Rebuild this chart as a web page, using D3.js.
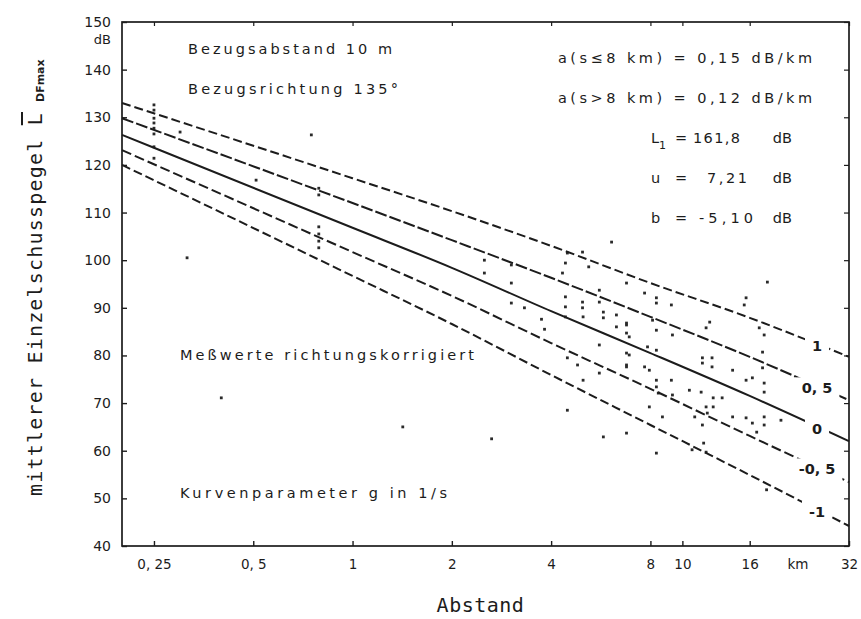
<!DOCTYPE html>
<html>
<head>
<meta charset="utf-8">
<script src="https://cdn.jsdelivr.net/npm/d3@7/dist/d3.min.js"></script>
<style>
  body { margin: 0; background: #fff; }
  svg text { fill: #1c1c1c; }
</style>
</head>
<body>
<svg id="chart" width="861" height="619"></svg>
<script>
const distKm = [0.2, 1, 2, 4, 8, 16, 32];

// curve levels in dB for each g parameter
const curveNames = ["1", "0, 5", "0", "-0, 5", "-1"];
const level_g1   = [133.0, 117.2, 110.3, 103.0, 95.2, 87.9, 79.7];
const level_g05  = [129.8, 112.0, 104.2, 96.3, 88.1, 79.7, 70.6];
const level_g0   = [126.3, 106.8, 98.4, 89.3, 80.5, 71.5, 62.0];
const level_gm05 = [123.1, 101.7, 92.5, 82.6, 73.0, 63.1, 53.4];
const level_gm1  = [120.0, 96.7, 86.6, 75.9, 65.4, 54.9, 44.2];

// measured values (direction corrected)
const pointDist = [
  0.25, 0.25, 0.25, 0.25, 0.25, 0.25, 0.25, 0.25,
  0.30, 0.75, 0.51, 0.315,
  0.79, 0.79, 0.79, 0.79, 0.79, 0.79,
  0.40, 1.42,
  2.51, 2.51, 2.64, 3.03, 3.03, 3.03, 3.32, 3.74, 3.82,
  4.33, 4.42, 4.48, 4.42, 4.42, 4.42, 4.48, 4.48, 4.81,
  4.98, 4.98, 4.98, 5.0, 5.0, 5.2,
  5.6, 5.6, 5.76, 5.76, 5.6, 5.6, 5.76, 6.1,
  6.31, 6.31, 6.77, 6.77, 6.77, 6.77, 6.77, 6.77, 6.9, 6.9, 6.77, 6.77,
  7.68, 8.34, 8.34, 9.26, 8.12, 8.34, 9.33, 7.84, 8.34, 7.68, 7.94, 8.34,
  8.34, 8.45, 9.26, 9.33, 7.94, 8.7, 8.34,
  12.1, 11.8, 11.5, 12.3, 11.5, 12.3, 10.5, 11.4, 12.4, 11.8, 12.4, 11.9,
  10.9, 11.5, 11.6, 10.7, 11.8,
  13.2, 14.2, 14.2, 15.6, 16.3, 17.7, 17.7, 15.6, 16.3, 17.7, 17.7, 16.8,
  17.5, 17.5, 17.7, 17.1, 15.6, 15.4, 18.1, 18.0, 19.9, 22.0
];
const pointLevel = [
  132.6, 131.5, 129.8, 128.8, 127.7, 126.5, 123.8, 121.4,
  126.9, 126.3, 116.8, 100.5,
  115.1, 113.7, 107.0, 105.5, 104.0, 102.6,
  71.1, 65.0,
  100.0, 97.3, 62.5, 99.0, 95.2, 91.0, 90.0, 87.6, 85.5,
  97.3, 99.4, 101.5, 92.3, 90.2, 88.1, 79.5, 68.5, 78.0,
  101.7, 91.2, 90.0, 88.1, 74.8, 98.6,
  93.7, 91.2, 89.1, 87.9, 82.2, 76.3, 62.9, 103.8,
  88.5, 86.0, 86.4, 84.7, 78.0, 95.2, 80.5, 86.8, 83.9, 80.1, 77.6, 63.7,
  93.1, 92.1, 91.0, 90.6, 87.4, 85.3, 84.3, 81.8, 81.1, 77.6, 76.9, 74.8,
  73.4, 72.1, 74.8, 71.7, 69.2, 67.1, 59.5,
  87.0, 85.8, 79.5, 79.5, 78.4, 77.6, 72.7, 72.3, 71.1, 69.2, 69.2, 67.9,
  67.1, 65.4, 61.6, 60.2, 59.7,
  71.1, 76.9, 67.1, 74.8, 75.3, 74.2, 72.3, 66.9, 65.8, 67.1, 65.4, 63.9,
  80.7, 77.4, 84.3, 85.8, 92.1, 90.6, 95.4, 51.8, 66.4, 56.0
];

// axes ticks
const xTicks = [0.25, 0.5, 1, 2, 4, 8, 10, 16, 32];
const xTickLabels = ["0, 25", "0, 5", "1", "2", "4", "8", "10", "16", "32"];
const yTicks = [40, 50, 60, 70, 80, 90, 100, 110, 120, 130, 140, 150];

const svg = d3.select('#chart');
const padL = 122, padR = 849, padT = 22, padB = 546;
const ink = '#1c1c1c';
const labelFont = '"DejaVu Sans", sans-serif';
const monoFont = '"DejaVu Sans Mono", monospace';

const x = d3.scaleLog().domain([0.2, 32]).range([padL, padR]);
const y = d3.scaleLinear().domain([40, 150]).range([padB, padT]);

// frame
svg.append('rect')
  .attr('x', padL).attr('y', padT)
  .attr('width', padR - padL).attr('height', padB - padT)
  .attr('fill', 'none').attr('stroke', ink).attr('stroke-width', 1.7);

// bottom axis, ticks point inward
const xAxis = svg.append('g')
  .attr('transform', `translate(0,${padB})`)
  .call(d3.axisBottom(x).tickValues(xTicks)
    .tickSizeInner(-5).tickSizeOuter(0).tickPadding(13)
    .tickFormat((d, i) => xTickLabels[i]));
xAxis.select('.domain').remove();
xAxis.selectAll('line').attr('stroke', ink).attr('stroke-width', 1.4);
xAxis.selectAll('text').attr('font-family', labelFont).attr('font-size', 13.5)
  .attr('fill', ink);

// top ticks
svg.append('g')
  .attr('transform', `translate(0,${padT})`)
  .call(d3.axisTop(x).tickValues(xTicks).tickSizeInner(-4).tickSizeOuter(0).tickFormat(''))
  .call(g => g.select('.domain').remove())
  .selectAll('line').attr('stroke', ink).attr('stroke-width', 1.2);

// unit "km"
svg.append('text')
  .attr('x', x(22.4)).attr('y', padB + 23)
  .attr('text-anchor', 'middle')
  .attr('font-family', labelFont).attr('font-size', 13.5)
  .text('km');

// left axis
const yAxis = svg.append('g')
  .attr('transform', `translate(${padL},0)`)
  .call(d3.axisLeft(y).tickValues(yTicks)
    .tickSizeInner(-5).tickSizeOuter(0).tickPadding(11));
yAxis.select('.domain').remove();
yAxis.selectAll('line').attr('stroke', ink).attr('stroke-width', 1.4);
yAxis.selectAll('text').attr('font-family', labelFont).attr('font-size', 14)
  .attr('fill', ink);

svg.append('text')
  .attr('x', padL - 11).attr('y', y(146.3)).attr('dy', '0.32em')
  .attr('text-anchor', 'end')
  .attr('font-family', labelFont).attr('font-size', 13)
  .text('dB');

// right ticks
svg.append('g')
  .attr('transform', `translate(${padR},0)`)
  .call(d3.axisRight(y).tickValues(yTicks).tickSizeInner(-5).tickSizeOuter(0).tickFormat(''))
  .call(g => g.select('.domain').remove())
  .selectAll('line').attr('stroke', ink).attr('stroke-width', 1.2);

// axis titles
const yTitle = svg.append('text')
  .attr('transform', `translate(42,${padB - 50}) rotate(-90)`)
  .attr('font-family', monoFont).attr('font-size', 20)
  .attr('letter-spacing', 1.2);
yTitle.append('tspan').text('mittlerer Einzelschusspegel ');
yTitle.append('tspan').attr('text-decoration', 'overline').text('L');
yTitle.append('tspan').attr('font-family', labelFont).attr('font-size', 11)
  .attr('font-weight', 'bold').attr('letter-spacing', 0)
  .attr('dx', 10).attr('dy', 2).text('DFmax');

svg.append('text')
  .attr('x', (padL + padR) / 2 - 5).attr('y', 612)
  .attr('text-anchor', 'middle')
  .attr('font-family', monoFont).attr('font-size', 20)
  .attr('letter-spacing', 0.5)
  .text('Abstand');

// scatter points
const points = pointDist.map((d, i) => ({ s: d, L: pointLevel[i] }));
svg.append('g').selectAll('rect')
  .data(points)
  .join('rect')
  .attr('x', d => x(d.s) - 1.4)
  .attr('y', d => y(d.L) - 1.4)
  .attr('width', 2.8).attr('height', 2.8)
  .attr('fill', '#2a2a2a');

// curves
const curves = [
  { name: curveNames[0], values: level_g1, dash: '9,4' },
  { name: curveNames[1], values: level_g05, dash: '12,3' },
  { name: curveNames[2], values: level_g0, dash: null },
  { name: curveNames[3], values: level_gm05, dash: '10,4' },
  { name: curveNames[4], values: level_gm1, dash: '9,4' }
];

const line = d3.line()
  .x(d => x(d[0]))
  .y(d => y(d[1]))
  .curve(d3.curveMonotoneX);

const curveG = svg.append('g');
curves.forEach(c => {
  curveG.append('path')
    .datum(distKm.map((s, i) => [s, c.values[i]]))
    .attr('d', line)
    .attr('fill', 'none')
    .attr('stroke', ink)
    .attr('stroke-width', 2)
    .attr('stroke-dasharray', c.dash);
});

// curve labels sit on the lines with a white gap
const labelAt = 25.6;
const n = distKm.length;
curves.forEach(c => {
  const t = Math.log(labelAt / distKm[n - 2]) / Math.log(distKm[n - 1] / distKm[n - 2]);
  const L = c.values[n - 2] + t * (c.values[n - 1] - c.values[n - 2]);
  const g = svg.append('g');
  const txt = g.append('text')
    .attr('x', x(labelAt)).attr('y', y(L) + 2).attr('dy', '0.35em')
    .attr('text-anchor', 'middle')
    .attr('font-family', labelFont).attr('font-size', 14.5)
    .attr('font-weight', 'bold')
    .text(c.name);
  const bb = txt.node().getBBox();
  g.insert('rect', 'text')
    .attr('x', bb.x - 7).attr('y', bb.y - 3)
    .attr('width', bb.width + 14).attr('height', bb.height + 6)
    .attr('fill', '#fff');
});

// annotations; widths follow the wide printer type of the original
const note = (tx, ty, str, len, anchor) => {
  const t = svg.append('text')
    .attr('x', tx).attr('y', ty).attr('dy', '0.35em')
    .attr('text-anchor', anchor || 'start')
    .attr('font-family', labelFont).attr('font-size', 14.5)
    .text(str);
  if (len) t.attr('textLength', len).attr('lengthAdjust', 'spacing');
  return t;
};

note(188, 49, 'Bezugsabstand 10 m', 204);
note(188, 89, 'Bezugsrichtung 135°', 210);
note(180, 355, 'Meßwerte richtungskorrigiert', 294);
note(180, 493, 'Kurvenparameter g in 1/s', 267);

note(558, 58, 'a(s≤8 km) = 0,15 dB/km', 254);
note(558, 98, 'a(s>8 km) = 0,12 dB/km', 254);

const params = [
  { sym: 'L', sub: '1', val: '161,8', vx: 693, vw: 47, ty: 138 },
  { sym: 'u', sub: '', val: '7,21', vx: 707, vw: 40, ty: 178 },
  { sym: 'b', sub: '', val: '-5,10', vx: 699, vw: 54, ty: 218 }
];
params.forEach(p => {
  const s = note(651, p.ty, p.sym);
  if (p.sub) s.append('tspan').attr('font-size', 11).attr('dy', 6).text(p.sub);
  note(681, p.ty, '=', null, 'middle');
  note(p.vx, p.ty, p.val, p.vw);
  note(792, p.ty, 'dB', null, 'end');
});
</script>
</body>
</html>
